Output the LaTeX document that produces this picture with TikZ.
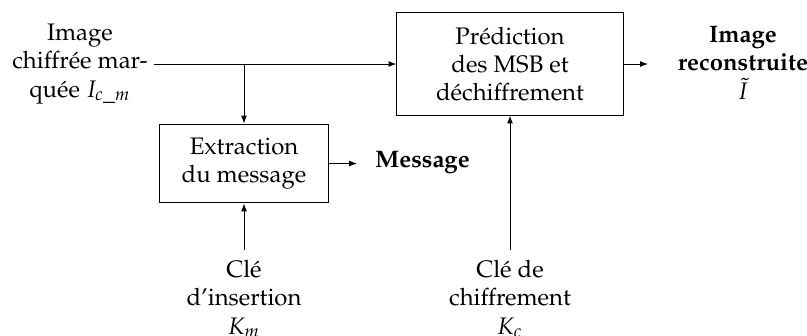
\documentclass[tikz,border=0pt]{standalone}
\usepackage[T1]{fontenc}
\usepackage{mathpazo}
\usetikzlibrary{arrows.meta}
\begin{document}
\begin{tikzpicture}[x=0.46pt,y=-0.46pt,
  every node/.style={font=\fontsize{11}{13}\selectfont},
  blk/.style={draw, line width=0.45pt, align=center, inner sep=0pt},
  lbl/.style={align=center, inner sep=0pt},
  flow/.style={-{Latex[length=3.6pt,width=2.7pt]}, line width=0.45pt}]
\useasboundingbox (0,0) rectangle (807,335);

% processing blocks
\node[blk, minimum width=104pt, minimum height=47pt] (pred) at (510,64)
  {Pr\'ediction\\des MSB et\\d\'echiffrement};
\node[blk, minimum width=77.3pt, minimum height=36.3pt] (extr) at (244,163.5)
  {Extraction\\du message};

% inputs and outputs
\node[lbl, inner xsep=2.5pt] (inimg) at (80,64)
  {Image\\chiffr\'ee mar-\\qu\'ee $I_{c\_m}$};
\node[lbl, anchor=north, inner ysep=4.5pt] (kins) at (244,250)
  {Cl\'e\\d'insertion\\$K_m$};
\node[lbl, anchor=north, inner ysep=4.5pt] (kchi) at (510,250)
  {Cl\'e de\\chiffrement\\$K_c$};
\node[lbl, font=\fontsize{11}{13}\selectfont\bfseries] (outimg) at (743,63)
  {Image\\reconstruite\\$\tilde{I}$};
\node[lbl, anchor=west, font=\fontsize{11}{13}\selectfont\bfseries] (msg) at (375,163)
  {Message};

\coordinate (split) at (244,64);
\coordinate (outtip) at (648,64);
\coordinate (msgtip) at (357,163.5);

% connectors
\draw[flow] (inimg.east) -- (pred.west);
\draw[flow] (split) -- (extr.north);
\draw[flow] (extr.east) -- (msgtip);
\draw[flow] (pred.east) -- (outtip);
\draw[flow] (kins.north) -- (extr.south);
\draw[flow] (kchi.north) -- (pred.south);
\end{tikzpicture}
\end{document}
